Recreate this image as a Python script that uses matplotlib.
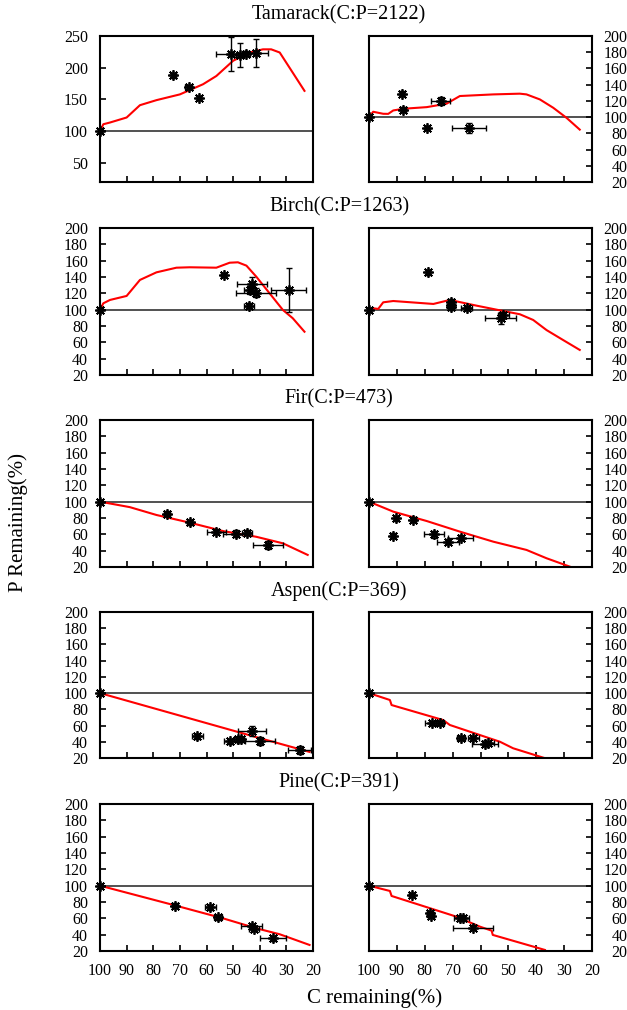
import matplotlib.pyplot as plt

plt.rcParams['font.family'] = ['Liberation Serif', 'DejaVu Serif']

titles = ['Tamarack(C:P=2122)', 'Birch(C:P=1263)', 'Fir(C:P=473)',
          'Aspen(C:P=369)', 'Pine(C:P=391)']
x_ticks = [100, 90, 80, 70, 60, 50, 40, 30, 20]

# Tamarack
tam_l_cx = [100, 98.75, 96.25, 90, 85, 78.75, 70, 61.3, 56.3, 50, 43.8, 38.8, 35.7, 32.5, 28.8, 23.2]
tam_l_cy = [100, 111, 113.7, 121.6, 141, 149, 158, 174, 187, 211, 224, 229, 229, 224, 200, 163.6]
tam_l_px = [100, 72.5, 66.7, 62.9, 50.7, 47.6, 45.1, 41.3]
tam_l_py = [100, 188, 169, 152, 222, 220, 222, 223]
tam_l_ex = [0, 1, 1.2, 0.8, 5.6, 1.5, 1.5, 4.3]
tam_l_ey = [0, 4, 3, 3, 27, 19, 4, 22]

tam_r_cx = [100, 98.5, 94.9, 93.1, 91.3, 87.7, 79.3, 72.2, 67.4, 55.4, 45.9, 43.5, 38.7, 33.9, 29.1, 24.4]
tam_r_cy = [100, 106.6, 104.1, 104, 108.2, 110.3, 112.3, 116.5, 126, 128, 128.9, 128, 121.8, 111.5, 99, 84.6]
tam_r_px = [100, 88.1, 87.7, 79.3, 74.3, 64.2]
tam_r_py = [100, 129, 109, 87, 120, 87]
tam_r_ex = [0, 0.7, 0.8, 0.7, 3.3, 6]
tam_r_ey = [0, 3, 3, 2, 5, 6]

# Birch
bir_l_cx = [100, 98.75, 96.25, 90, 85, 78.8, 71.3, 66.3, 56.3, 51.3, 48.2, 45, 41.3, 36.3, 31.3, 27.6, 23.2]
bir_l_cy = [100, 107.8, 111.9, 116.8, 136.4, 145.7, 151.4, 151.9, 151.4, 157.5, 158, 153.9, 140.4, 120, 99.6, 89.5, 73]
bir_l_px = [100, 53.6, 43, 43.8, 41.3, 44, 29.2]
bir_l_py = [100, 142.5, 132, 124, 121, 105, 124]
bir_l_ex = [0, 1, 5.6, 2, 7.5, 2, 6.4]
bir_l_ey = [0, 3, 8, 5, 5, 3, 27]

bir_r_cx = [100, 98.5, 96.7, 94.9, 91.3, 76.9, 71, 61.4, 51.9, 45.9, 41.1, 36.3, 30.4, 24.4]
bir_r_cy = [100, 101.7, 100.9, 109, 110.6, 107, 111.9, 104.9, 98.4, 94.4, 87.4, 75, 62.9, 50.7]
bir_r_px = [100, 78.7, 70.7, 70.7, 70.7, 65, 52.8, 51.9]
bir_r_py = [100, 146, 110, 106, 103, 101.7, 89.5, 93.5]
bir_r_ex = [0, 0.7, 0.8, 0.8, 0.8, 2, 5.6, 2]
bir_r_ey = [0, 3, 3, 3, 3, 2, 7, 4]

# Fir
fir_l_cx = [100, 88.8, 78.8, 66.3, 53.8, 41.3, 31.3, 22]
fir_l_cy = [100, 93.3, 83.7, 74.3, 64, 57, 49, 34.8]
fir_l_px = [100, 74.8, 66.3, 56.3, 48.8, 44.8, 37]
fir_l_py = [100, 85, 75, 63, 61, 62, 47]
fir_l_ex = [0, 1, 1, 3.7, 5, 2, 5.6]
fir_l_ey = [0, 3, 3, 3, 4, 3, 5]

fir_r_cx = [100, 91.3, 79.3, 67.4, 55.4, 43.5, 36.3, 28]
fir_r_cy = [100, 87.8, 76.3, 63.3, 51, 40.9, 30.7, 20.5]
fir_r_px = [100, 90.4, 91.3, 84.1, 76.7, 71.6, 67.1]
fir_r_py = [100, 79.7, 58.4, 78, 60, 51, 56]
fir_r_ex = [0, 0.8, 0.8, 1, 3.6, 3.9, 4.5]
fir_r_ey = [0, 3, 3, 3, 4, 3, 3]

# Aspen
asp_l_cx = [100, 80, 60, 40, 21.3]
asp_l_cy = [100, 81.5, 63, 44.5, 27.5]
asp_l_px = [100, 63.5, 51, 48.2, 47, 43, 40, 25]
asp_l_py = [100, 47, 40.5, 43, 43, 53.6, 40.5, 30]
asp_l_ex = [0, 2, 2.5, 1.5, 1, 5.3, 5.6, 4.4]
asp_l_ey = [0, 3, 3, 3, 3, 6, 5, 5]

asp_r_cx = [100, 92.5, 91.9, 73.4, 71, 53, 48.3, 35.7]
asp_r_cy = [100, 91.5, 85.3, 66.8, 60.7, 40, 32, 18.5]
asp_r_px = [100, 77.5, 74.6, 67.1, 62.6, 57.2, 58.4]
asp_r_py = [100, 63.3, 63.3, 44.3, 44.3, 38, 37.5]
asp_r_ex = [0, 2.5, 1.5, 1.5, 2, 2, 4.8]
asp_r_ey = [0, 2, 2, 2, 2, 2, 2]

# Pine
pin_l_cx = [100, 72.5, 53.8, 41.3, 32.5, 21.3]
pin_l_cy = [100, 76.4, 60, 47.8, 40.5, 27.4]
pin_l_px = [100, 71.9, 58.5, 55.7, 43, 42.2, 35.1]
pin_l_py = [100, 75.6, 73.5, 61.3, 50, 47, 35.6]
pin_l_ex = [0, 1.2, 2, 1.5, 4, 2, 4.9]
pin_l_ey = [0, 3, 3, 3, 3, 3, 3]

pin_r_cx = [100, 92.5, 91.9, 68.6, 60.2, 56, 55.6, 36.9]
pin_r_cy = [100, 93.5, 87.4, 62, 49.8, 44.9, 39.7, 21.3]
pin_r_px = [100, 84.7, 78.1, 77.8, 67.4, 66.2, 62.6]
pin_r_py = [100, 88.6, 66, 63, 60, 60, 48.6]
pin_r_ex = [0, 1, 1, 1, 2, 2, 7.2]
pin_r_ey = [0, 3, 3, 3, 3, 3, 3]

rows = [
    [(tam_l_cx, tam_l_cy, tam_l_px, tam_l_py, tam_l_ex, tam_l_ey),
     (tam_r_cx, tam_r_cy, tam_r_px, tam_r_py, tam_r_ex, tam_r_ey)],
    [(bir_l_cx, bir_l_cy, bir_l_px, bir_l_py, bir_l_ex, bir_l_ey),
     (bir_r_cx, bir_r_cy, bir_r_px, bir_r_py, bir_r_ex, bir_r_ey)],
    [(fir_l_cx, fir_l_cy, fir_l_px, fir_l_py, fir_l_ex, fir_l_ey),
     (fir_r_cx, fir_r_cy, fir_r_px, fir_r_py, fir_r_ex, fir_r_ey)],
    [(asp_l_cx, asp_l_cy, asp_l_px, asp_l_py, asp_l_ex, asp_l_ey),
     (asp_r_cx, asp_r_cy, asp_r_px, asp_r_py, asp_r_ex, asp_r_ey)],
    [(pin_l_cx, pin_l_cy, pin_l_px, pin_l_py, pin_l_ex, pin_l_ey),
     (pin_r_cx, pin_r_cy, pin_r_px, pin_r_py, pin_r_ex, pin_r_ey)],
]

# %% layout in pixels of a 627x1010 canvas
W, H = 627, 1010
tops = [36, 228, 420, 612, 804]
bots = [182, 375, 567, 758, 951]
cols = [(100, 313), (369, 592)]

fig = plt.figure(figsize=(W / 100, H / 100), dpi=100)

for r in range(5):
    fig.text(339 / W, 1 - (tops[r] - 21) / H, titles[r], ha='center', va='center', fontsize=14.5)
    for c in range(2):
        x0, x1 = cols[c]
        ax = fig.add_axes([x0 / W, 1 - bots[r] / H, (x1 - x0) / W, (bots[r] - tops[r]) / H])
        cx, cy, px, py, ex, ey = rows[r][c]
        ax.axhline(100, color='#222222', lw=1.1, zorder=1)
        ax.plot(cx, cy, color='#ff0000', lw=1.5, zorder=2)
        ax.errorbar(px, py, xerr=ex, yerr=ey, fmt='none', ecolor='k',
                    elinewidth=1, capsize=2.5, capthick=1, zorder=3)
        ax.plot(px, py, linestyle='none', marker=(8, 2, 0), ms=7.5, mew=1.3, color='k',
                zorder=4, clip_on=False)

        ax.set_xlim(100, 20)
        ax.set_xticks(x_ticks)
        if r == 0 and c == 0:
            ax.set_ylim(20, 250)
            ax.set_yticks([50, 100, 150, 200, 250])
        else:
            ax.set_ylim(20, 200)
            ax.set_yticks(list(range(20, 201, 20)))

        for s in ax.spines.values():
            s.set_linewidth(1.5)
        ax.tick_params(axis='x', direction='in', length=4.5, width=1.2, labelsize=11.5,
                       pad=8.6, labelbottom=(r == 4))
        if c == 0:
            ax.tick_params(axis='y', direction='in', length=4.5, width=1.2, labelsize=11.5, pad=8.6)
        else:
            ax.yaxis.tick_right()
            ax.tick_params(axis='y', direction='in', length=4.5, width=1.2, labelsize=11.5, pad=25.5)
            plt.setp(ax.get_yticklabels(), ha='right')

fig.text(375 / W, 1 - 998 / H, 'C remaining(%)', ha='center', va='center', fontsize=15)
fig.text(18 / W, 1 - 523 / H, 'P Remaining(%)', ha='center', va='center', rotation=90, fontsize=15)

fig.savefig('out.png', dpi=100)
